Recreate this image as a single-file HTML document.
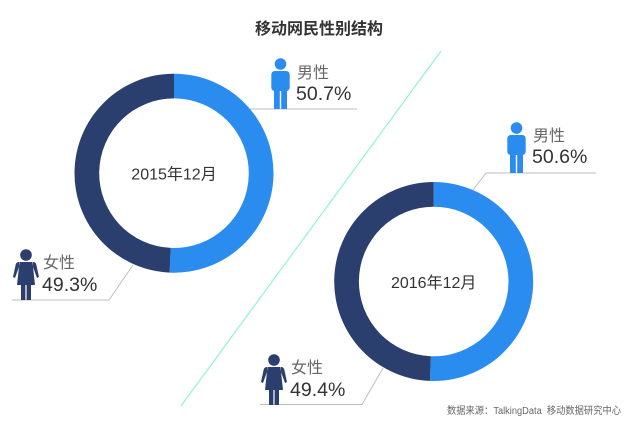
<!DOCTYPE html>
<html lang="zh">
<head>
<meta charset="utf-8">
<title>移动网民性别结构</title>
<style>
html,body{margin:0;padding:0;background:#fff;}
#stage{display:block;width:640px;height:430px;}
text{font-family:"Liberation Sans","Noto Sans CJK SC",sans-serif;}
</style>
</head>
<body>
<svg id="stage" width="640" height="430" viewBox="0 0 640 430" xmlns="http://www.w3.org/2000/svg">
  <rect width="640" height="430" fill="#ffffff"/>
  <text x="319" y="34" text-anchor="middle" font-size="16" font-weight="700" fill="#333333">移动网民性别结构</text>
  <line x1="441" y1="51" x2="181" y2="406" stroke="#86f3d6" stroke-width="1.1"/>

  <g id="rings"></g>

  <polyline points="250,109 357,109" fill="none" stroke="#bdbdbd" stroke-width="1"/>
  <polyline points="473,190 486,173 596,173" fill="none" stroke="#bdbdbd" stroke-width="1"/>
  <polyline points="12,300 109,300 133,265" fill="none" stroke="#bdbdbd" stroke-width="1"/>
  <polyline points="260,404.5 362,404.5 383,368" fill="none" stroke="#bdbdbd" stroke-width="1"/>

  <g transform="translate(280,58)" fill="#2b8cf0">
    <circle cx="0.5" cy="6" r="5.8"/>
    <rect x="-8.7" y="13" width="18.4" height="20" rx="3.5"/>
    <rect x="-6" y="28" width="5.8" height="23"/>
    <rect x="1.2" y="28" width="5.8" height="23"/>
  </g>
  <text x="297" y="78" font-size="16" fill="#666666">男性</text>
  <text x="296" y="100" font-size="19.5" fill="#333333">50.7%</text>

  <g transform="translate(516,122)" fill="#2b8cf0">
    <circle cx="0.5" cy="6" r="5.8"/>
    <rect x="-8.7" y="13" width="18.4" height="20" rx="3.5"/>
    <rect x="-6" y="28" width="5.8" height="23"/>
    <rect x="1.2" y="28" width="5.8" height="23"/>
  </g>
  <text x="533" y="141" font-size="16" fill="#666666">男性</text>
  <text x="532" y="163" font-size="19.5" fill="#333333">50.6%</text>

  <g transform="translate(26,249)" fill="#2b3f6e">
    <circle cx="0" cy="6" r="5.8"/>
    <path d="M-6.5,13 H6.5 L9,36 H-9 Z"/>
    <path d="M7,13 Q9.5,13 10.3,15.5 L13,28 L11,29 L7,18 Z"/>
    <path d="M-7,13 Q-9.5,13 -10.3,15.5 L-13,28 L-11,29 L-7,18 Z"/>
    <rect x="-5" y="35" width="4.4" height="16"/>
    <rect x="0.6" y="35" width="4.4" height="16"/>
  </g>
  <text x="43" y="268" font-size="16" fill="#666666">女性</text>
  <text x="42" y="291" font-size="19.5" fill="#333333">49.3%</text>

  <g transform="translate(274,354)" fill="#2b3f6e">
    <circle cx="0" cy="6" r="5.8"/>
    <path d="M-6.5,13 H6.5 L9,36 H-9 Z"/>
    <path d="M7,13 Q9.5,13 10.3,15.5 L13,28 L11,29 L7,18 Z"/>
    <path d="M-7,13 Q-9.5,13 -10.3,15.5 L-13,28 L-11,29 L-7,18 Z"/>
    <rect x="-5" y="35" width="4.4" height="16"/>
    <rect x="0.6" y="35" width="4.4" height="16"/>
  </g>
  <text x="291" y="373" font-size="16" fill="#666666">女性</text>
  <text x="290" y="396" font-size="19.5" fill="#333333">49.4%</text>

  <text x="447" y="414" font-size="10" fill="#666666" textLength="174" lengthAdjust="spacingAndGlyphs" xml:space="preserve">数据来源：TalkingData  移动数据研究中心</text>
</svg>
<script>
const periods = ["2015年12月", "2016年12月"];
const maleShare = [50.7, 50.6];
const femaleShare = [49.3, 49.4];

const ringCentersX = [174, 433.7];
const ringCentersY = [173.2, 281.5];
const outerRadius = 99.5;
const innerRadius = 74.8;
const maleColor = "#2b8cf0";
const femaleColor = "#2b3f6e";
const SVG_NS = "http://www.w3.org/2000/svg";

function angleFor(share) {
  return share / 100 * 2 * Math.PI;
}

function arcPath(cx, cy, startAngle, endAngle) {
  const pt = (r, a) => [cx + r * Math.sin(a), cy - r * Math.cos(a)];
  const large = endAngle - startAngle > Math.PI ? 1 : 0;
  const a = pt(outerRadius, startAngle);
  const b = pt(outerRadius, endAngle);
  const c = pt(innerRadius, endAngle);
  const d = pt(innerRadius, startAngle);
  return "M" + a[0] + "," + a[1] +
    " A" + outerRadius + "," + outerRadius + " 0 " + large + " 1 " + b[0] + "," + b[1] +
    " L" + c[0] + "," + c[1] +
    " A" + innerRadius + "," + innerRadius + " 0 " + large + " 0 " + d[0] + "," + d[1] + " Z";
}

const rings = document.getElementById("rings");
periods.forEach(function (period, i) {
  const total = maleShare[i] + femaleShare[i];
  const maleEnd = angleFor(maleShare[i] / total * 100);
  const cx = ringCentersX[i];
  const cy = ringCentersY[i];

  const male = document.createElementNS(SVG_NS, "path");
  male.setAttribute("d", arcPath(cx, cy, 0, maleEnd));
  male.setAttribute("fill", maleColor);
  
  
  rings.appendChild(male);

  const female = document.createElementNS(SVG_NS, "path");
  female.setAttribute("d", arcPath(cx, cy, maleEnd, 2 * Math.PI));
  female.setAttribute("fill", femaleColor);
  
  
  rings.appendChild(female);

  const label = document.createElementNS(SVG_NS, "text");
  label.setAttribute("x", cx);
  label.setAttribute("y", cy + 6.5);
  label.setAttribute("text-anchor", "middle");
  label.setAttribute("font-size", "16");
  label.setAttribute("fill", "#333333");
  label.textContent = period;
  
  
  rings.appendChild(label);
});
</script>
</body>
</html>
